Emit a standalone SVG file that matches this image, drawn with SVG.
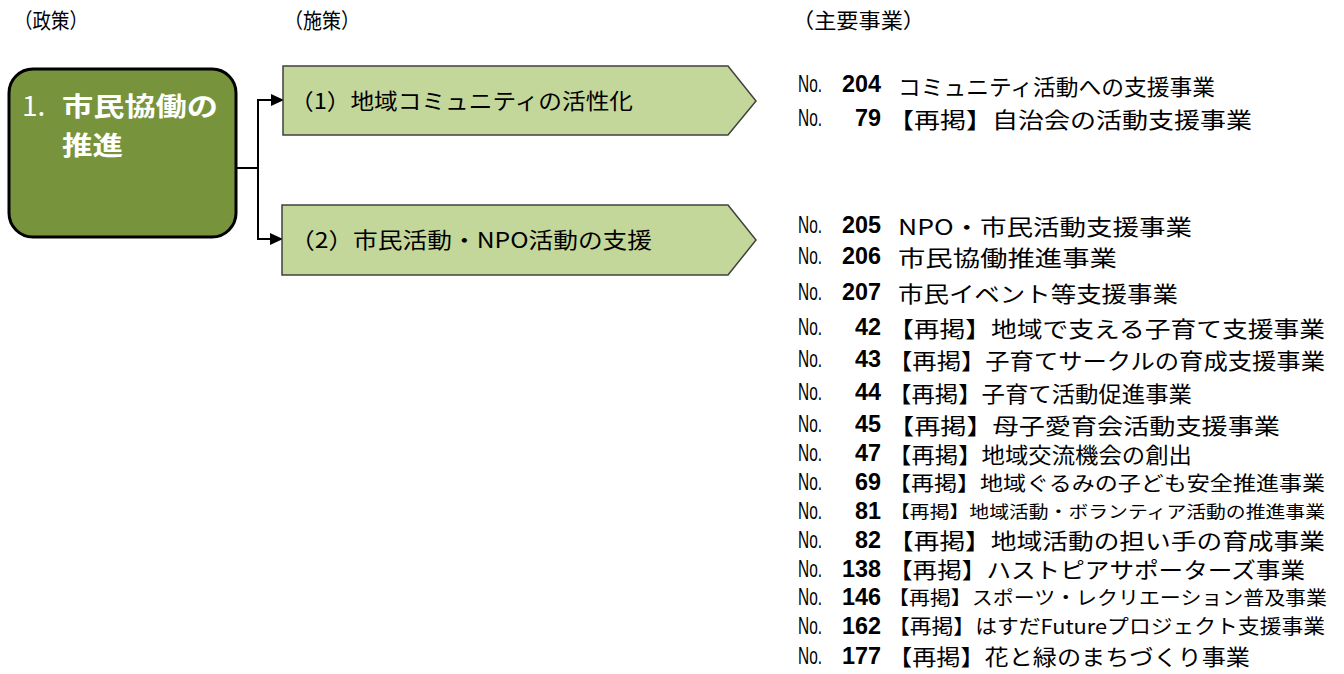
<svg xmlns="http://www.w3.org/2000/svg" width="1344" height="674" viewBox="0 0 1344 674">
<defs>
<style>
.hdr{font-family:"Noto Sans CJK JP","Noto Sans",sans-serif;font-size:21px;fill:#000}
.pol{font-family:"Noto Sans CJK JP","Noto Sans",sans-serif;font-size:26px;font-weight:bold;fill:#fff}
.mea{font-family:"Noto Sans CJK JP","Noto Sans",sans-serif;font-size:22px;fill:#000}
.no{font-family:"Liberation Sans",Arial,sans-serif;font-size:23px;fill:#000}
.num{font-family:"Liberation Sans",Arial,sans-serif;font-size:24px;font-weight:bold;fill:#000}
.it{font-family:"Noto Sans CJK JP","Noto Sans",sans-serif;font-size:22px;fill:#000}
.pent{fill:#C4D79B;stroke:#404040;stroke-width:1.5}
.conn{fill:none;stroke:#000;stroke-width:2}
</style>
<marker id="ah" markerWidth="13" markerHeight="12" refX="12" refY="6" orient="auto" markerUnits="userSpaceOnUse">
<path d="M0,0 L13,6 L0,12 Z" fill="#000"/>
</marker>
</defs>
<rect width="1344" height="674" fill="#fff"/>
<g id="headers">
<text class="hdr" x="14" y="28" textLength="74" lengthAdjust="spacingAndGlyphs">（政策）</text>
<text class="hdr" x="284" y="28" textLength="76" lengthAdjust="spacingAndGlyphs">（施策）</text>
<text class="hdr" x="792" y="28" textLength="133" lengthAdjust="spacingAndGlyphs">（主要事業）</text>
</g>
<g id="policy">
<rect x="9" y="69" width="227" height="168" rx="24" ry="24" fill="#77933C" stroke="#000" stroke-width="3"/>
<text class="pol" x="22" y="116" style="font-weight:normal;font-size:28px">1.</text>
<text class="pol" x="62" y="116" textLength="156" lengthAdjust="spacingAndGlyphs">市民協働の</text>
<text class="pol" x="62" y="155" textLength="61" lengthAdjust="spacingAndGlyphs">推進</text>
</g>
<g id="connectors">
<path class="conn" d="M236,168 H258 V100 H283" marker-end="url(#ah)"/>
<path class="conn" d="M258,168 V239 H282" marker-end="url(#ah)"/>
</g>
<g id="measure1">
<path class="pent" d="M283,66 H728 L756,101 L728,135 H283 Z"/>
<text class="mea" x="290" y="109" textLength="343" lengthAdjust="spacingAndGlyphs">（1）地域コミュニティの活性化</text>
</g>
<g id="measure2">
<path class="pent" d="M282,205 H728 L756,240 L728,275 H282 Z"/>
<text class="mea" x="290" y="248" textLength="362" lengthAdjust="spacingAndGlyphs">（2）市民活動・NPO活動の支援</text>
</g>
<g id="projects1">
<text class="no" x="798" y="92" textLength="24" lengthAdjust="spacingAndGlyphs">No.</text>
<text class="num" x="881" y="92" text-anchor="end" textLength="39" lengthAdjust="spacingAndGlyphs">204</text>
<text class="it" x="898" y="95" textLength="317" lengthAdjust="spacingAndGlyphs">コミュニティ活動への支援事業</text>
<text class="no" x="798" y="126" textLength="24" lengthAdjust="spacingAndGlyphs">No.</text>
<text class="num" x="881" y="126" text-anchor="end" textLength="26" lengthAdjust="spacingAndGlyphs">79</text>
<text class="it" x="888" y="128" textLength="364" lengthAdjust="spacingAndGlyphs">【再掲】自治会の活動支援事業</text>
</g>
<g id="projects2">
<text class="no" x="798" y="233" textLength="24" lengthAdjust="spacingAndGlyphs">No.</text>
<text class="num" x="881" y="233" text-anchor="end" textLength="39" lengthAdjust="spacingAndGlyphs">205</text>
<text class="it" x="898" y="235" textLength="294" lengthAdjust="spacingAndGlyphs">NPO・市民活動支援事業</text>
<text class="no" x="798" y="264" textLength="24" lengthAdjust="spacingAndGlyphs">No.</text>
<text class="num" x="881" y="264" text-anchor="end" textLength="39" lengthAdjust="spacingAndGlyphs">206</text>
<text class="it" x="898" y="266" textLength="219" lengthAdjust="spacingAndGlyphs">市民協働推進事業</text>
<text class="no" x="798" y="300" textLength="24" lengthAdjust="spacingAndGlyphs">No.</text>
<text class="num" x="881" y="300" text-anchor="end" textLength="39" lengthAdjust="spacingAndGlyphs">207</text>
<text class="it" x="898" y="302" textLength="280" lengthAdjust="spacingAndGlyphs">市民イベント等支援事業</text>
<text class="no" x="798" y="335" textLength="24" lengthAdjust="spacingAndGlyphs">No.</text>
<text class="num" x="881" y="335" text-anchor="end" textLength="26" lengthAdjust="spacingAndGlyphs">42</text>
<text class="it" x="888" y="337" textLength="437" lengthAdjust="spacingAndGlyphs">【再掲】地域で支える子育て支援事業</text>
<text class="no" x="798" y="367" textLength="24" lengthAdjust="spacingAndGlyphs">No.</text>
<text class="num" x="881" y="367" text-anchor="end" textLength="26" lengthAdjust="spacingAndGlyphs">43</text>
<text class="it" x="888" y="369" textLength="437" lengthAdjust="spacingAndGlyphs">【再掲】子育てサークルの育成支援事業</text>
<text class="no" x="798" y="400" textLength="24" lengthAdjust="spacingAndGlyphs">No.</text>
<text class="num" x="881" y="400" text-anchor="end" textLength="26" lengthAdjust="spacingAndGlyphs">44</text>
<text class="it" x="888" y="402" textLength="304" lengthAdjust="spacingAndGlyphs">【再掲】子育て活動促進事業</text>
<text class="no" x="798" y="432" textLength="24" lengthAdjust="spacingAndGlyphs">No.</text>
<text class="num" x="881" y="432" text-anchor="end" textLength="26" lengthAdjust="spacingAndGlyphs">45</text>
<text class="it" x="888" y="434" textLength="392" lengthAdjust="spacingAndGlyphs">【再掲】母子愛育会活動支援事業</text>
<text class="no" x="798" y="461" textLength="24" lengthAdjust="spacingAndGlyphs">No.</text>
<text class="num" x="881" y="461" text-anchor="end" textLength="26" lengthAdjust="spacingAndGlyphs">47</text>
<text class="it" x="888" y="463" textLength="304" lengthAdjust="spacingAndGlyphs">【再掲】地域交流機会の創出</text>
<text class="no" x="798" y="490" textLength="24" lengthAdjust="spacingAndGlyphs">No.</text>
<text class="num" x="881" y="490" text-anchor="end" textLength="26" lengthAdjust="spacingAndGlyphs">69</text>
<text class="it" x="888" y="491" textLength="437" lengthAdjust="spacingAndGlyphs" style="font-size:20px">【再掲】地域ぐるみの子ども安全推進事業</text>
<text class="no" x="798" y="519" textLength="24" lengthAdjust="spacingAndGlyphs">No.</text>
<text class="num" x="881" y="519" text-anchor="end" textLength="26" lengthAdjust="spacingAndGlyphs">81</text>
<text class="it" x="890" y="518" textLength="435" lengthAdjust="spacingAndGlyphs" style="font-size:17px">【再掲】地域活動・ボランティア活動の推進事業</text>
<text class="no" x="798" y="548" textLength="24" lengthAdjust="spacingAndGlyphs">No.</text>
<text class="num" x="881" y="548" text-anchor="end" textLength="26" lengthAdjust="spacingAndGlyphs">82</text>
<text class="it" x="888" y="549" textLength="437" lengthAdjust="spacingAndGlyphs">【再掲】地域活動の担い手の育成事業</text>
<text class="no" x="798" y="577" textLength="24" lengthAdjust="spacingAndGlyphs">No.</text>
<text class="num" x="881" y="577" text-anchor="end" textLength="39" lengthAdjust="spacingAndGlyphs">138</text>
<text class="it" x="888" y="578" textLength="417" lengthAdjust="spacingAndGlyphs">【再掲】ハストピアサポーターズ事業</text>
<text class="no" x="798" y="605" textLength="24" lengthAdjust="spacingAndGlyphs">No.</text>
<text class="num" x="881" y="605" text-anchor="end" textLength="39" lengthAdjust="spacingAndGlyphs">146</text>
<text class="it" x="888" y="605" textLength="439" lengthAdjust="spacingAndGlyphs" style="font-size:19px">【再掲】スポーツ・レクリエーション普及事業</text>
<text class="no" x="798" y="634" textLength="24" lengthAdjust="spacingAndGlyphs">No.</text>
<text class="num" x="881" y="634" text-anchor="end" textLength="39" lengthAdjust="spacingAndGlyphs">162</text>
<text class="it" x="888" y="634" textLength="437" lengthAdjust="spacingAndGlyphs" style="font-size:20px">【再掲】はすだFutureプロジェクト支援事業</text>
<text class="no" x="798" y="664" textLength="24" lengthAdjust="spacingAndGlyphs">No.</text>
<text class="num" x="881" y="664" text-anchor="end" textLength="39" lengthAdjust="spacingAndGlyphs">177</text>
<text class="it" x="888" y="665" textLength="362" lengthAdjust="spacingAndGlyphs">【再掲】花と緑のまちづくり事業</text>
</g>
</svg>
